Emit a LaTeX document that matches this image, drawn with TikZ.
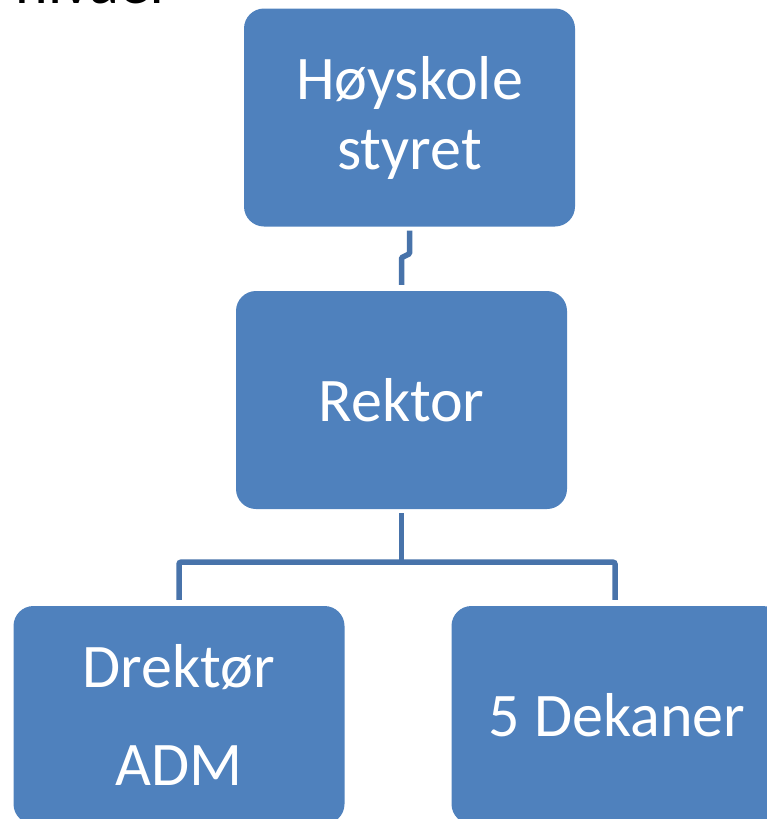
\documentclass[tikz,border=0pt]{standalone}
\usepackage{fontspec}
\setmainfont{Carlito}
\definecolor{boxblue}{HTML}{4F81BD}
\definecolor{lineblue}{HTML}{4873AA}
\tikzset{
  orgbox/.style={fill=boxblue, draw=none, rounded corners=20pt, minimum width=331pt,
    minimum height=218pt, text=white, align=center, inner sep=0pt,
    font=\fontsize{62}{70}\selectfont},
  conn/.style={draw=lineblue, line width=5.5pt, rounded corners=2pt}
}
\begin{document}
\begin{tikzpicture}[x=1pt,y=-1pt]
\useasboundingbox (0,0) rectangle (767,819);
\clip (0,0) rectangle (767,819);
\node[anchor=base east, font=\fontsize{62}{70}\selectfont, inner sep=0pt] (title) at (172,4) {nivåer};
\node[orgbox] (top) at (409.5,117.5) {Høyskole\\styret};
\node[orgbox] (rektor) at (401.5,400) {Rektor};
\node[orgbox, font=\fontsize{62}{98}\selectfont] (drek) at (179,715) {Drektør\\ADM};
\node[orgbox] (dek) at (617,715) {5 Dekaner};
\draw[conn, rounded corners=1pt] ([yshift=-4pt]top.south) -- ++(0,23) -- ([yshift=33pt]rektor.north) -- ([yshift=6pt]rektor.north);
\draw[conn] ([yshift=-4pt]rektor.south) -- ++(0,49) coordinate (j);
\draw[conn] ([yshift=6pt]drek.north) |- (j) -| ([xshift=-2pt,yshift=6pt]dek.north);
\end{tikzpicture}
\end{document}
